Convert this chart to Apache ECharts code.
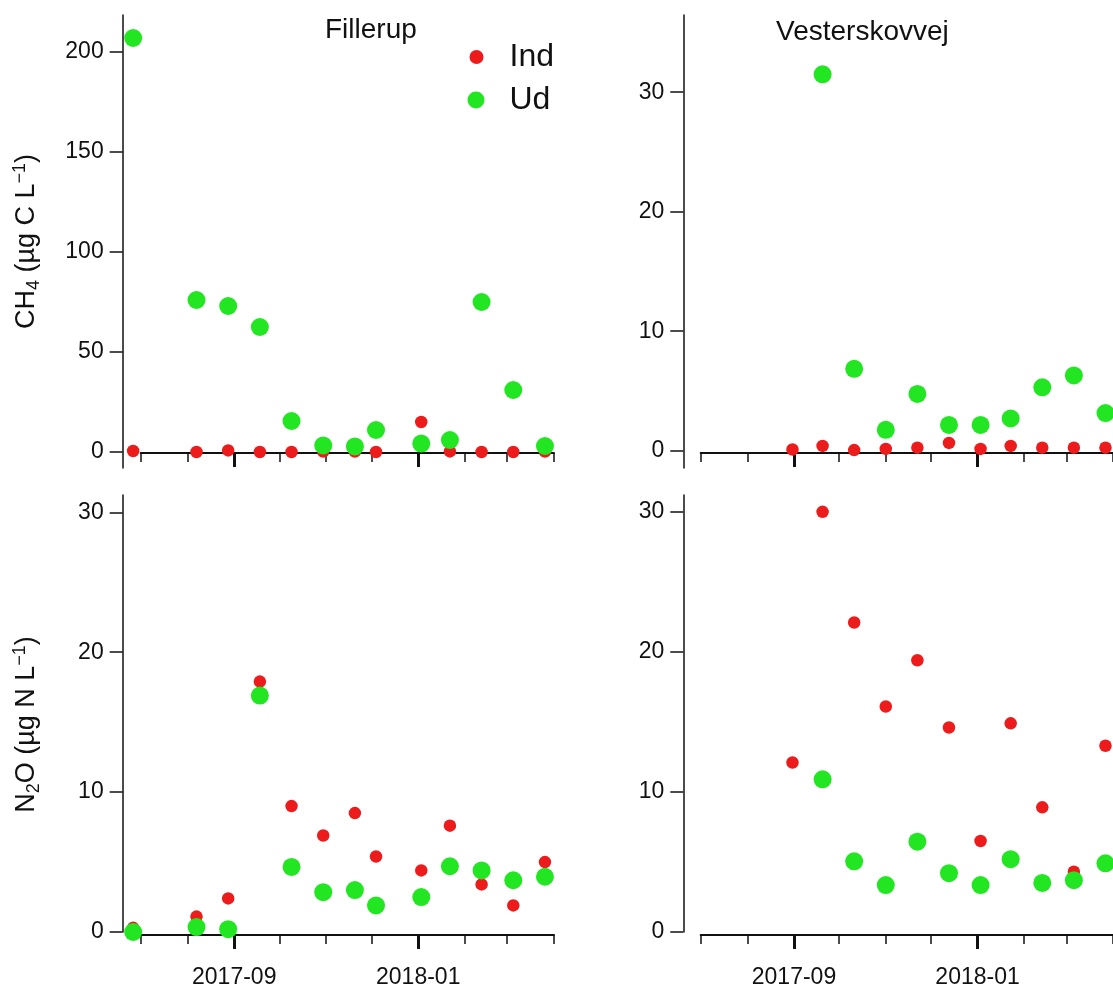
<!DOCTYPE html>
<html>
<head>
<meta charset="utf-8">
<title>CH4 og N2O – Fillerup og Vesterskovvej</title>
<script src="https://cdn.jsdelivr.net/npm/echarts@6.0.0/dist/echarts.min.js"></script>
<style>
  html, body { margin: 0; padding: 0; background: #fff; }
  #chart { width: 1113px; height: 990px; }
</style>
</head>
<body>
<div id="chart"></div>
<script>
// sampling dates
const datesFillerup = ['2017-06-26', '2017-08-07', '2017-08-28', '2017-09-18', '2017-10-09', '2017-10-30',
  '2017-11-20', '2017-12-04', '2018-01-03', '2018-01-22', '2018-02-12', '2018-03-05', '2018-03-26'];
const datesVester = ['2017-08-31', '2017-09-20', '2017-10-11', '2017-11-01', '2017-11-22', '2017-12-13',
  '2018-01-03', '2018-01-23', '2018-02-13', '2018-03-06', '2018-03-27'];

// CH4 (µg C/L)
const fillerupCh4Ind = [0.5, 0, 0.8, 0, 0, 0.2, 0.2, 0, 15, 0.3, 0, 0, 0.2];
const fillerupCh4Ud = [207, 76, 73, 62.5, 15.5, 3.3, 2.8, 11, 4.2, 6, 75, 31, 3];
const vesterCh4Ind = [0.1, 0.4, 0.05, 0.15, 0.25, 0.65, 0.15, 0.4, 0.25, 0.25, 0.25];
const vesterCh4Ud = [null, 31.5, 6.85, 1.75, 4.75, 2.15, 2.15, 2.7, 5.3, 6.3, 3.15];

// N2O (µg N/L)
const fillerupN2oInd = [0.3, 1.1, 2.4, 17.9, 9.0, 6.9, 8.5, 5.4, 4.4, 7.6, 3.4, 1.9, 5.0];
const fillerupN2oUd = [0, 0.35, 0.2, 16.9, 4.65, 2.85, 3.0, 1.9, 2.5, 4.7, 4.4, 3.7, 3.95];
const vesterN2oInd = [12.1, 30.0, 22.1, 16.1, 19.4, 14.6, 6.5, 14.9, 8.9, 4.3, 13.3];
const vesterN2oUd = [null, 10.9, 5.05, 3.35, 6.45, 4.2, 3.35, 5.2, 3.5, 3.7, 4.9];

// ticks
const monthTicks = ['2017-07-01', '2017-08-01', '2017-09-01', '2017-10-01', '2017-11-01',
  '2017-12-01', '2018-01-01', '2018-02-01', '2018-03-01', '2018-04-01'];
const labelTicks = ['2017-09-01', '2018-01-01'];
const ch4FillerupTicks = [0, 50, 100, 150, 200];
const ch4VesterTicks = [0, 10, 20, 30];
const n2oTicks = [0, 10, 20, 30];

const RED = '#ec1c1c';
const GREEN = '#22e622';
const INK = '#111';
const FONT = '"Liberation Sans", Arial, sans-serif';

// dates as millisecond numbers on a plain value axis
const toTime = s => new Date(s + 'T00:00:00').getTime();
const pairs = (dates, vals) => dates.map((d, i) => [toTime(d), vals[i]]).filter(p => p[1] != null);
const fmtMonth = v => {
  const d = new Date(v);
  return d.getFullYear() + '-' + String(d.getMonth() + 1).padStart(2, '0');
};

const nameRich = {
  a: { fontSize: 27, lineHeight: 32, fontFamily: FONT, color: INK },
  b: { fontSize: 18, lineHeight: 17, verticalAlign: 'bottom', fontFamily: FONT, color: INK },
  c: { fontSize: 18, lineHeight: 17, verticalAlign: 'top', fontFamily: FONT, color: INK }
};

const panels = [
  { left: 140.7, top: 15, height: 453, yMin: -8, yMax: 218.5, yOffset: 18, xOffset: -15,
    ticks: ch4FillerupTicks, labels: false, dates: datesFillerup, ind: fillerupCh4Ind, ud: fillerupCh4Ud,
    name: '{a|CH}{b|4}{a| (µg C L}{c|−1}{a|)}', namePad: [0, 0, 0, 0] },
  { left: 700.7, top: 15, height: 453, yMin: -1.45, yMax: 36.46, yOffset: 17.4, xOffset: -15,
    ticks: ch4VesterTicks, labels: false, dates: datesVester, ind: vesterCh4Ind, ud: vesterCh4Ud },
  { left: 140.7, top: 495, height: 437, yMin: 0, yMax: 31.24, yOffset: 18, xOffset: 3,
    ticks: n2oTicks, labels: true, dates: datesFillerup, ind: fillerupN2oInd, ud: fillerupN2oUd,
    name: '{a|N}{b|2}{a|O (µg N L}{c|−1}{a|)}', namePad: [0, 22, 0, 0] },
  { left: 700.7, top: 495, height: 437, yMin: 0, yMax: 31.2, yOffset: 17.4, xOffset: 3,
    ticks: n2oTicks, labels: true, dates: datesVester, ind: vesterN2oInd, ud: vesterN2oUd }
];

const grid = [], xAxis = [], yAxis = [], series = [];
const xMin = toTime(monthTicks[0]);
const xMax = toTime(monthTicks[monthTicks.length - 1]);

panels.forEach((p, i) => {
  grid.push({ left: p.left, top: p.top, width: 413.3, height: p.height, containLabel: false });

  // axis line + monthly ticks
  xAxis.push({
    gridIndex: i, type: 'value', position: 'bottom', min: xMin, max: xMax, offset: p.xOffset,
    axisLine: { show: true, onZero: false, lineStyle: { color: INK, width: 2 } },
    axisTick: { show: true, length: 9, lineStyle: { color: INK, width: 1.5 }, customValues: monthTicks.map(toTime) },
    axisLabel: { show: false, customValues: monthTicks.map(toTime) },
    splitLine: { show: false }
  });
  // major ticks + labels
  xAxis.push({
    gridIndex: i, type: 'value', position: 'bottom', min: xMin, max: xMax, offset: p.xOffset,
    axisLine: { show: false, onZero: false },
    axisTick: { show: true, length: 14, lineStyle: { color: INK, width: 3 }, customValues: labelTicks.map(toTime) },
    axisLabel: {
      show: p.labels, customValues: labelTicks.map(toTime), margin: 31,
      fontSize: 23, color: INK, fontFamily: FONT, formatter: fmtMonth
    },
    splitLine: { show: false }
  });

  yAxis.push({
    gridIndex: i, type: 'value', position: 'left', min: p.yMin, max: p.yMax, offset: p.yOffset,
    axisLine: { show: true, onZero: false, lineStyle: { color: INK, width: 1.5 } },
    axisTick: { show: true, length: 13, lineStyle: { color: INK, width: 1.5 }, customValues: p.ticks },
    axisLabel: { customValues: p.ticks, fontSize: 23, color: INK, margin: 19, fontFamily: FONT },
    splitLine: { show: false },
    name: p.name || '',
    nameLocation: 'middle',
    nameRotate: 90,
    nameGap: 80,
    nameTextStyle: { fontSize: 27, fontFamily: FONT, color: INK, rich: nameRich, padding: p.namePad || 0 }
  });

  series.push({
    type: 'scatter', name: 'Ind', xAxisIndex: 2 * i, yAxisIndex: i,
    data: pairs(p.dates, p.ind), symbolSize: 12.5, clip: false,
    itemStyle: { color: RED, opacity: 1 }
  });
  series.push({
    type: 'scatter', name: 'Ud', xAxisIndex: 2 * i, yAxisIndex: i,
    data: pairs(p.dates, p.ud), symbolSize: 18, clip: false,
    itemStyle: { color: GREEN, opacity: 1 }
  });
});

const option = {
  backgroundColor: '#fff',
  animation: false,
  title: [
    { text: 'Fillerup', left: 325, top: 16, padding: 0,
      textStyle: { fontSize: 28, fontWeight: 'normal', color: INK, fontFamily: FONT } },
    { text: 'Vesterskovvej', left: 776, top: 18, padding: 0,
      textStyle: { fontSize: 28, fontWeight: 'normal', color: INK, fontFamily: FONT } }
  ],
  legend: [
    { data: ['Ind'], left: 469.5, top: 39, padding: 0, itemWidth: 14, itemHeight: 14, icon: 'circle', selectedMode: false,
      textStyle: { fontSize: 32, lineHeight: 36, color: INK, fontFamily: FONT, padding: [0, 0, 0, 21] } },
    { data: ['Ud'], left: 467.5, top: 82, padding: 0, itemWidth: 17, itemHeight: 17, icon: 'circle', selectedMode: false,
      textStyle: { fontSize: 32, lineHeight: 36, color: INK, fontFamily: FONT, padding: [0, 0, 0, 20] } }
  ],
  grid: grid,
  xAxis: xAxis,
  yAxis: yAxis,
  series: series
};

const myChart = echarts.init(document.getElementById('chart'));
myChart.setOption(option);
</script>
</body>
</html>
